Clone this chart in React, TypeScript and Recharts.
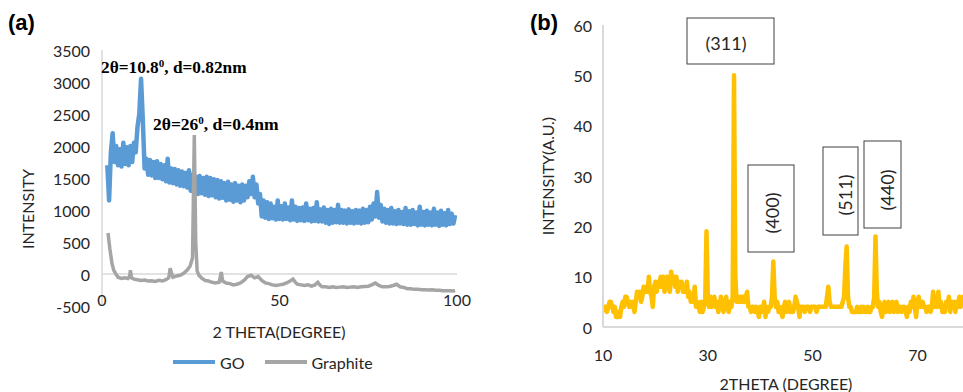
import React from 'react';
import { LineChart, Line, XAxis, YAxis, ReferenceLine, Legend } from 'recharts';

// ---------- Panel (a): GO & Graphite XRD ----------
const GO_START = 1.5; // 2θ of first GO sample
const GO_STEP = 0.5; // scan step (degrees)
const goIntensity = [
  1700, 1150,
  1900, 2200, 1750, 2000, 1700, 1950, 1680, 2050, 1720, 1980,
  1700, 2000, 1750, 2050, 1900, 2300, 2500, 3050, 2400, 1650,
  1800, 1550, 1780, 1540, 1750, 1500, 1760, 1500, 1720, 1480,
  1700, 1450, 1800, 1430, 1650, 1420, 1640, 1400, 1620, 1380,
  1600, 1370, 1580, 1350, 1620, 1300, 1550, 1280, 1520, 1250,
  1530, 1260, 1500, 1240, 1520, 1220, 1500, 1230, 1480, 1200,
  1470, 1180, 1450, 1190, 1420, 1150, 1440, 1160, 1400, 1130,
  1420, 1150, 1380, 1120, 1400, 1150, 1380, 1200, 1450, 1250,
  1520, 1200, 1400, 1100, 1250, 900, 1150, 880, 1120, 860,
  1100, 870, 1050, 850, 1150, 860, 1060, 850, 1100, 860,
  1040, 840, 1150, 850, 1050, 830, 1030, 840, 1040, 830,
  1100, 840, 1020, 820, 1030, 830, 1120, 820, 1010, 820,
  1040, 800, 1000, 780, 1020, 800, 1000, 810, 1080, 800,
  1000, 800, 990, 790, 1010, 800, 980, 790, 1000, 800,
  990, 790, 1020, 800, 1000, 810, 1050, 850, 1100, 900,
  1280, 880, 1080, 820, 1020, 800, 1000, 790, 1030, 790,
  980, 780, 1000, 790, 970, 780, 1030, 770, 980, 770,
  1000, 780, 960, 760, 1050, 770, 970, 760, 990, 770,
  960, 760, 1020, 770, 960, 750, 990, 770, 950, 760,
  1000, 780, 940, 790, 920,
];

const graphiteTheta = [
  1.7, 2.2, 2.8, 3.3, 3.8, 4.5, 5.5, 6.5, 7.3, 7.8, 8.0, 8.3, 9, 10, 11, 12, 13, 14, 15, 16, 17, 18,
  18.8, 19.2, 19.6, 20, 21, 22, 23, 24, 24.8, 25.5, 26.0, 26.4, 26.8, 27.3, 28, 29, 30, 31, 32, 33,
  33.6, 34.0, 35, 36, 37, 38, 39, 40, 41, 42, 43, 44, 45, 46, 47, 48, 49, 50, 51, 52, 53, 53.8, 54.5,
  55, 56, 57, 58, 59, 60, 60.8, 61.5, 62, 63, 64, 65, 66, 67, 68, 69, 70, 71, 72, 73, 74, 75, 76, 77,
  78, 79, 80, 81, 82, 83, 84, 85, 86, 87, 88, 89, 90, 91, 92, 93, 94, 95, 96, 97, 98, 99, 99.5,
];
const graphiteIntensity = [
  640, 400, 170, 60, 10, -50, -70, -60, -70, -40, 60, -60, -80, -90, -100, -95, -110, -105, -115, -100, -110, -90,
  -60, 90, 10, -50, -30, -20, 10, 60, 120, 250, 2170, 500, 50, -20, -60, -100, -110, -130, -140, -130,
  30, -110, -140, -150, -170, -160, -140, -100, -40, -20, -60, -40, -100, -140, -150, -170, -180, -170, -160, -140, -110, -80, -130,
  -160, -170, -180, -170, -190, -170, -130, -180, -200, -200, -210, -200, -210, -205, -200, -210, -205, -200, -210, -200, -195, -190, -170, -140,
  -180, -200, -200, -195, -180, -160, -200, -210, -230, -230, -240, -240, -245, -245, -250, -245, -255, -255, -260, -260, -260, -265, -260,
];
const aXTicks = [0, 50, 100];
const aYTicks = [-500, 0, 500, 1000, 1500, 2000, 2500, 3000, 3500];

// ---------- Panel (b): ferrite XRD ----------
const B_START = 10;
const B_STEP = 0.25;
const bIntensity = [
  3, 4, 4, 3, 4, 5, 5, 4,
  3, 4, 2, 2, 3, 2, 4, 5,
  4, 6, 6, 5, 4, 5, 4, 5,
  3, 5, 7, 6, 7, 5, 6, 8,
  7, 8, 7, 10, 7, 6, 4, 8,
  9, 7, 9, 8, 10, 8, 10, 7,
  9, 10, 8, 7, 11, 9, 10, 8,
  10, 7, 9, 8, 9, 7, 8, 7,
  9, 6, 7, 5, 6, 5, 8, 4,
  5, 4, 3, 5, 3, 4, 5, 19,
  6, 4, 6, 4, 5, 6, 4, 5,
  3, 4, 6, 4, 3, 5, 6, 4,
  3, 5, 4, 6, 50, 10, 5, 6,
  5, 6, 5, 6, 5, 6, 7, 4,
  4, 3, 4, 4, 3, 4, 3, 2,
  4, 4, 3, 5, 2, 4, 3, 4,
  4, 6, 13, 6, 4, 5, 3, 4,
  3, 2, 4, 5, 3, 4, 5, 3,
  4, 3, 4, 6, 5, 4, 2, 4,
  4, 4, 3, 4, 4, 4, 3, 4,
  4, 4, 4, 3, 4, 4, 4, 4,
  4, 4, 4, 6, 8, 5, 4, 4,
  4, 4, 4, 4, 4, 4, 4, 5,
  6, 12, 16, 6, 4, 4, 3, 3,
  3, 3, 4, 3, 3, 4, 3, 4,
  3, 3, 4, 3, 3, 4, 4, 6,
  18, 7, 4, 5, 3, 2, 4, 5,
  3, 4, 5, 3, 4, 5, 3, 4,
  5, 3, 4, 4, 3, 4, 4, 3,
  2, 4, 3, 5, 4, 6, 4, 2,
  5, 6, 4, 4, 5, 4, 4, 3,
  4, 4, 3, 4, 7, 4, 5, 4,
  7, 4, 5, 3, 4, 3, 5, 4,
  6, 3, 5, 4, 5, 3, 5, 4,
  6, 4, 5, 6, 5,
];
const bXTicks = [10, 30, 50, 70];
const bYTicks = [0, 10, 20, 30, 40, 50, 60];
const bPeakLabels = ['(311)', '(400)', '(511)', '(440)'];

const goData = goIntensity.map((y, i) => ({ x: GO_START + i * GO_STEP, y }));
const graphiteData = graphiteTheta.map((x, i) => ({ x, y: graphiteIntensity[i] }));
const bData = bIntensity.map((y, i) => ({ x: B_START + i * B_STEP, y }));

const FONT = 'Lato, "Open Sans", sans-serif';
const SERIF = '"Liberation Serif", "Times New Roman", serif';
const TXT = '#262626';
const AXIS = '#d9d9d9';

const makeTick = (dx: number, dy: number, anchor: string) => (props: any) => (
  <text
    x={props.x + dx}
    y={props.y + dy}
    textAnchor={anchor}
    dominantBaseline="central"
    fontSize={16}
    fontFamily={FONT}
    fill={TXT}
  >
    {props.payload.value}
  </text>
);

const legendContent = () => (
  <div style={{ display: 'flex', alignItems: 'center', fontFamily: FONT, fontSize: 16, color: TXT, height: 20 }}>
    <span style={{ display: 'inline-block', width: 42, height: 4, background: '#5B9BD5' }} />
    <span style={{ marginLeft: 5 }}>GO</span>
    <span style={{ display: 'inline-block', width: 42, height: 4, background: '#A5A5A5', marginLeft: 20 }} />
    <span style={{ marginLeft: 5 }}>Graphite</span>
  </div>
);

export default function App() {
  return (
    <div style={{ position: 'absolute', left: 0, top: 0, width: 963, height: 392, overflow: 'hidden', background: '#fff', fontFamily: FONT }}>
      <div style={{ position: 'absolute', left: 0, top: 0 }}>
        <LineChart width={480} height={392} margin={{ top: 50, right: 23, bottom: 56, left: 0 }}>
          <XAxis
            type="number"
            dataKey="x"
            domain={[0, 100]}
            ticks={aXTicks}
            height={30}
            axisLine={false}
            tickLine={false}
            tickSize={0}
            tickMargin={0}
            tick={makeTick(0, -7, 'middle')}
            allowDataOverflow
          />
          <YAxis
            type="number"
            domain={[-500, 3500]}
            ticks={aYTicks}
            width={102}
            axisLine={{ stroke: AXIS, strokeWidth: 1.5 }}
            tickLine={false}
            tickSize={0}
            tickMargin={0}
            tick={makeTick(-12, 0, 'end')}
          />
          <ReferenceLine y={0} stroke={AXIS} strokeWidth={1.5} />
          <Line data={goData} dataKey="y" name="GO" stroke="#5B9BD5" strokeWidth={4.5} strokeLinejoin="round" dot={false} isAnimationActive={false} />
          <Line data={graphiteData} dataKey="y" name="Graphite" stroke="#A5A5A5" strokeWidth={3.5} dot={false} isAnimationActive={false} />
          <Legend verticalAlign="middle" align="center" wrapperStyle={{ top: 352, left: 173, width: 260, height: 20 }} content={legendContent} />
        </LineChart>
      </div>
      <div style={{ position: 'absolute', left: 480, top: 0 }}>
        <LineChart width={483} height={392} margin={{ top: 25, right: 0, bottom: 35, left: 0 }}>
          <XAxis
            type="number"
            dataKey="x"
            domain={[10, 78.7]}
            ticks={bXTicks}
            height={30}
            axisLine={{ stroke: AXIS, strokeWidth: 2 }}
            tickLine={false}
            tickSize={0}
            tickMargin={0}
            tick={makeTick(0, 27, 'middle')}
            allowDataOverflow
          />
          <YAxis
            type="number"
            domain={[0, 60]}
            ticks={bYTicks}
            width={123}
            axisLine={{ stroke: AXIS, strokeWidth: 2 }}
            tickLine={false}
            tickSize={0}
            tickMargin={0}
            tick={makeTick(-11, 0, 'end')}
          />
          <Line data={bData} dataKey="y" stroke="#FFC000" strokeWidth={4.5} strokeLinejoin="round" dot={false} isAnimationActive={false} />
        </LineChart>
      </div>
      <svg width={963} height={392} style={{ position: 'absolute', left: 0, top: 0, pointerEvents: 'none' }}>
        <text x={8} y={30} fontFamily='"Liberation Sans", Arial, sans-serif' fontWeight="bold" fontSize={22} fill="#000">(a)</text>
        <text x={530} y={30} fontFamily='"Liberation Sans", Arial, sans-serif' fontWeight="bold" fontSize={22} fill="#000">(b)</text>
        <text x={101} y={73} fontFamily={SERIF} fontWeight="bold" fontSize={17.3} fill="#000">
          2θ=10.8<tspan fontSize={11} dy={-6}>0</tspan><tspan dy={6}>, d=0.82nm</tspan>
        </text>
        <text x={153} y={130} fontFamily={SERIF} fontWeight="bold" fontSize={17.5} fill="#000">
          2θ=26<tspan fontSize={11} dy={-6}>0</tspan><tspan dy={6}>, d=0.4nm</tspan>
        </text>
        <text x={279} y={331} textAnchor="middle" dominantBaseline="central" fontSize={16} fontFamily={FONT} fill={TXT}>2 THETA(DEGREE)</text>
        <text x={27} y={209} textAnchor="middle" dominantBaseline="central" fontSize={16} fontFamily={FONT} fill={TXT} transform="rotate(-90 27 209)">INTENSITY</text>
        <text x={786} y={383} textAnchor="middle" dominantBaseline="central" fontSize={16} fontFamily={FONT} fill={TXT}>2THETA (DEGREE)</text>
        <text x={547} y={176} textAnchor="middle" dominantBaseline="central" fontSize={16} fontFamily={FONT} fill={TXT} transform="rotate(-90 547 176)">INTENSITY(A.U.)</text>
        <rect x={687} y={18} width={87} height={46} fill="#fff" stroke="#404040" strokeWidth={1} />
        <text x={726} y={43} textAnchor="middle" dominantBaseline="central" fontSize={18} fontFamily={FONT} fill={TXT}>{bPeakLabels[0]}</text>
        <rect x={748} y={165} width={46} height={87} fill="#fff" stroke="#404040" strokeWidth={1} />
        <text x={772} y={213} textAnchor="middle" dominantBaseline="central" fontSize={18} fontFamily={FONT} fill={TXT} transform="rotate(-90 772 213)">{bPeakLabels[1]}</text>
        <rect x={823} y={147} width={35} height={88} fill="#fff" stroke="#404040" strokeWidth={1} />
        <text x={845} y={195} textAnchor="middle" dominantBaseline="central" fontSize={18} fontFamily={FONT} fill={TXT} transform="rotate(-90 845 195)">{bPeakLabels[2]}</text>
        <rect x={864} y={141} width={37} height={87} fill="#fff" stroke="#404040" strokeWidth={1} />
        <text x={887} y={190} textAnchor="middle" dominantBaseline="central" fontSize={18} fontFamily={FONT} fill={TXT} transform="rotate(-90 887 190)">{bPeakLabels[3]}</text>
      </svg>
    </div>
  );
}
